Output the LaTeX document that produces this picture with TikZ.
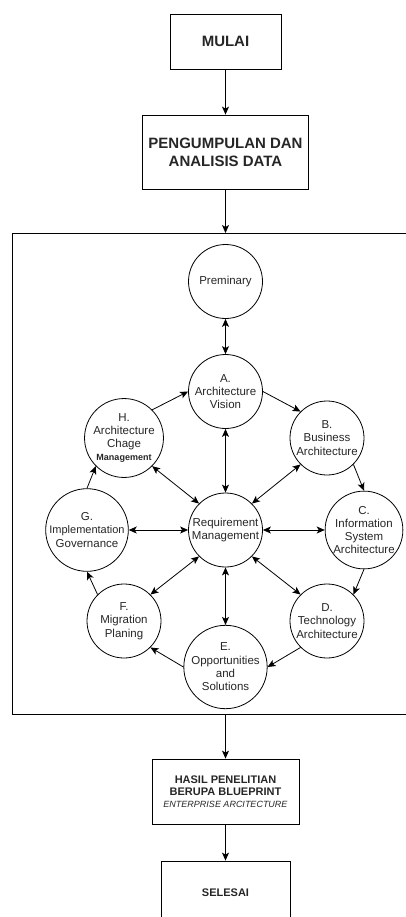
\documentclass[tikz,border=0pt]{standalone}
\usepackage{fontspec}
\setmainfont{Liberation Sans}
\usetikzlibrary{arrows.meta}
\begin{document}
\begin{tikzpicture}[x=1pt,y=-1pt,line width=0.8pt,
    stepbox/.style={draw,rectangle,inner sep=0pt,align=center,text=black!85},
    phase/.style={draw,circle,minimum size=74pt,inner sep=0pt,align=center,
        text=black!85,font=\fontsize{11.5}{13.3}\selectfont},
    arr/.style={-{Stealth[length=8pt,width=7pt,inset=2pt]}},
    both/.style={{Stealth[length=8pt,width=7pt,inset=2pt]}-{Stealth[length=8pt,width=7pt,inset=2pt]}}]
\useasboundingbox (0,0) rectangle (406,917);
\clip (0,0) rectangle (406,917);
% flow boxes
\node[stepbox,minimum width=111pt,minimum height=55pt,font=\bfseries\fontsize{15}{18}\selectfont]
    (mulai) at (225.5,41.5) {MULAI};
\node[stepbox,minimum width=166pt,minimum height=74pt,font=\bfseries\fontsize{15}{18}\selectfont]
    (data) at (225.5,152) {PENGUMPULAN DAN\\ANALISIS DATA};
\node[stepbox,minimum width=147pt,minimum height=65pt,font=\bfseries\fontsize{11}{12}\selectfont]
    (hasil) at (225.5,791.5) {HASIL PENELITIAN\\BERUPA BLUEPRINT\\
    {\mdseries\itshape\fontsize{9}{11}\selectfont ENTERPRISE ARCITECTURE}};
\node[stepbox,minimum width=129pt,minimum height=64pt,font=\bfseries\fontsize{11}{13}\selectfont]
    (selesai) at (225.5,893) {SELESAI};
% frame round the cycle
\draw (12,233) rectangle (430,714);
\coordinate (frametop) at (225.5,233);
\coordinate (framebot) at (225.5,714);
% phases
\node[phase] (prem) at (225.5,281.5) {Preminary};
\node[phase] (A) at (225.5,391.5) {A.\\Architecture\\Vision};
\node[phase] (B) at (327,438) {B.\\Business\\Architecture};
\node[phase] (C) at (364,530) {C.\\Information\\System\\Architecture};
\node[phase] (D) at (327,621) {D.\\Technology\\Architecture};
\node[phase] (E) at (225.5,667) {E.\\Opportunities\\and\\Solutions};
\node[phase] (F) at (124,621) {F.\\Migration\\Planing};
\node[phase] (G) at (87,530) {G.\\{\fontsize{11}{13.3}\selectfont Implementation}\\Governance};
\node[phase] (H) at (124,438) {H.\\Architecture\\Chage\\{\bfseries\fontsize{9}{11}\selectfont Management}};
\node[phase] (req) at (225.5,530) {Requirement\\Management};
% connectors
\draw[arr] (mulai) -- (data);
\draw[arr] (data) -- (frametop);
\draw[arr] (framebot) -- (hasil);
\draw[arr] (hasil) -- (selesai);
\draw[both] (prem.south) -- (A.north);
\draw[arr] (A.east) -- (B.135);
\draw[arr] (B.-45) -- (C.north);
\draw[arr] (C.south) -- (D.45);
\draw[arr] (D.-135) -- (E.east);
\draw[arr] (E.west) -- (F.-45);
\draw[arr] (F.135) -- (G.south);
\draw[arr] (G.north) -- (H.-135);
\draw[arr] (H.45) -- (A.west);
\draw[both] (req.north) -- (A.south);
\draw[both] (req.45) -- (B.-135);
\draw[both] (req.east) -- (C.west);
\draw[both] (req.-45) -- (D.135);
\draw[both] (req.south) -- (E.north);
\draw[both] (req.-135) -- (F.45);
\draw[both] (req.west) -- (G.east);
\draw[both] (req.135) -- (H.-45);
\end{tikzpicture}
\end{document}
